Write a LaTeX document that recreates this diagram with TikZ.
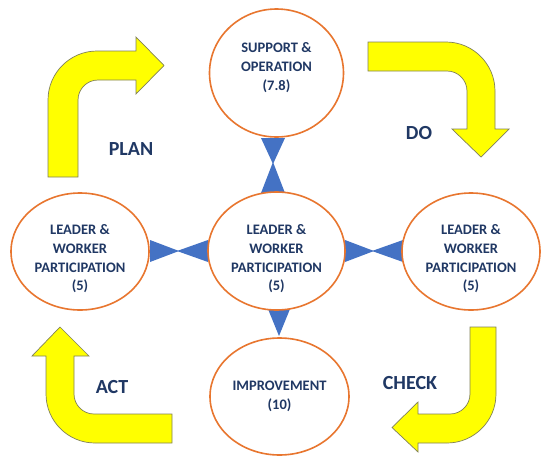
\documentclass[tikz,border=0pt]{standalone}
\usepackage{fontspec}
\setmainfont{Carlito}
\usetikzlibrary{shapes.geometric}
\definecolor{navy}{HTML}{203864}
\definecolor{orng}{HTML}{E8762F}
\definecolor{tri}{HTML}{4472C4}
\definecolor{yel}{HTML}{FFFF00}
\definecolor{yedge}{HTML}{80805A}
\tikzset{
  circ/.style={ellipse, draw=orng, line width=1.6pt, fill=white, inner sep=0pt},
  ctext/.style={align=center, text=navy, inner sep=0pt,
    font=\fontsize{14.5}{18.7}\selectfont\bfseries},
  bigarrow/.style={fill=yel, draw=yedge, line width=0.7pt, line join=miter},
  tribox/.style={fill=tri, draw=none},
  phase/.style={text=navy, font=\fontsize{20}{22}\selectfont\bfseries}
}
\begin{document}
\begin{tikzpicture}[x=1pt,y=-1pt]
\useasboundingbox (0,0) rectangle (550,464);
\fill[white] (0,0) rectangle (550,464);

% yellow arrows
% PLAN
\draw[bigarrow] (48,177) -- (48,100) .. controls (48,73) and (70,51) .. (97,51)
  -- (136,51) -- (136,37) -- (164,65.5) -- (136,94) -- (136,80) -- (98,80)
  .. controls (87,80) and (78,89) .. (78,100) -- (78,177) -- cycle;
% DO
\draw[bigarrow] (368,42) -- (446,42) .. controls (473,42) and (495,64) .. (495,91)
  -- (495,129) -- (509,129) -- (481,157) -- (452,129) -- (467,129) -- (467,91)
  .. controls (467,80) and (458,71) .. (447,71) -- (368,71) -- cycle;
% CHECK
\draw[bigarrow] (470,327) -- (496,327) -- (496,394) .. controls (496,421) and (474,443) .. (447,443)
  -- (418,443) -- (418,452) -- (392,427.5) -- (418,402) -- (418,414) -- (450,414)
  .. controls (461,414) and (470,405) .. (470,394) -- cycle;
% ACT
\draw[bigarrow] (172,414) -- (172,443) -- (95,443) .. controls (68,443) and (46,421) .. (46,394)
  -- (46,356) -- (32,356) -- (60,327) -- (89,356) -- (74,356) -- (74,394)
  .. controls (74,405) and (83,414) .. (94,414) -- cycle;

% blue triangles
\fill[tribox] (261,138) -- (285,138) -- (273,164) -- cycle;
\fill[tribox] (261,193) -- (285,193) -- (273,162) -- cycle;
\fill[tribox] (150,240) -- (150,262) -- (179,251) -- cycle;
\fill[tribox] (208,240) -- (208,262) -- (177,251) -- cycle;
\fill[tribox] (345,240) -- (345,262) -- (374,251) -- cycle;
\fill[tribox] (403,240) -- (403,262) -- (372,251) -- cycle;
\fill[tribox] (268,309) -- (290,309) -- (279,336) -- cycle;

% ellipses
\node[circ, minimum width=134pt, minimum height=128pt] (sup) at (276.5,73) {};
\node[circ, minimum width=137pt, minimum height=118pt] (mid) at (276.5,251) {};
\node[circ, minimum width=138pt, minimum height=117pt] (lft) at (80,251.5) {};
\node[circ, minimum width=138pt, minimum height=117pt] (rgt) at (471,251.5) {};
\node[circ, minimum width=139pt, minimum height=117pt] (imp) at (279.5,396.5) {};

% ellipse texts
\node[ctext] (supt) at (276.5,67.5) {SUPPORT \&\\OPERATION\\(7.8)};
\node[ctext] (midt) at (276.5,259) {LEADER \&\\WORKER\\PARTICIPATION\\(5)};
\node[ctext] (lftt) at (80,259) {LEADER \&\\WORKER\\PARTICIPATION\\(5)};
\node[ctext] (rgtt) at (471,259) {LEADER \&\\WORKER\\PARTICIPATION\\(5)};
\node[ctext] (impt) at (279.5,396.5) {IMPROVEMENT\\(10)};

% phase labels
\node[phase] (plan) at (131,149) {PLAN};
\node[phase] (do) at (419,133) {DO};
\node[phase] (check) at (410,383) {CHECK};
\node[phase] (act) at (112,387) {ACT};
\end{tikzpicture}
\end{document}
